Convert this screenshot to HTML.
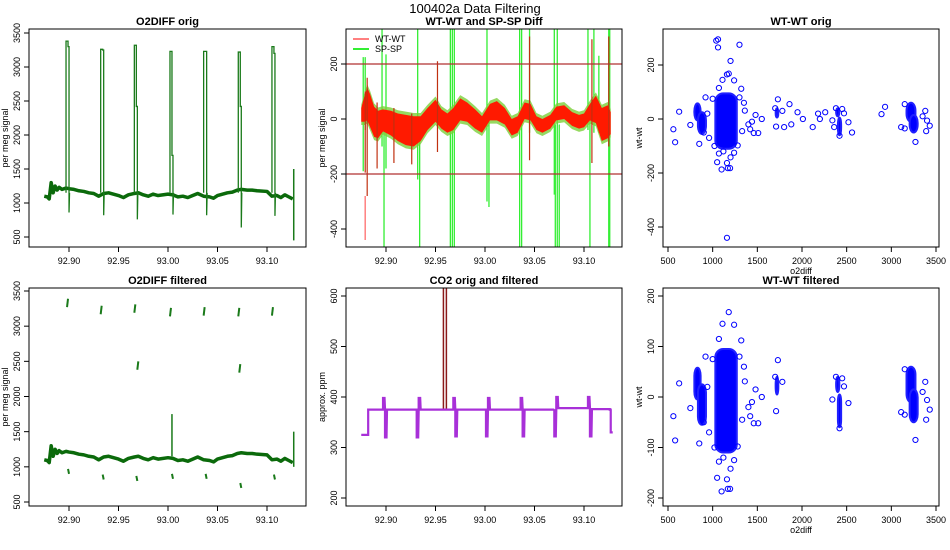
<!DOCTYPE html>
<html><head><meta charset="utf-8">
<style>
html,body{margin:0;padding:0;background:#fff;}
svg{display:block;font-family:"Liberation Sans",sans-serif;}
</style></head><body>
<svg id="c" width="950" height="550" viewBox="0 0 950 550" xmlns="http://www.w3.org/2000/svg">
<text x="475" y="13" text-anchor="middle" font-size="13">100402a   Data Filtering</text>
</svg>
<script>
// ---------- data ----------
const baseT = [92.875,92.878,92.880,92.882,92.884,92.886,92.888,92.890,92.893,92.897,92.900,92.905,92.910,92.915,92.920,92.925,92.930,92.935,92.940,92.945,92.950,92.955,92.960,92.966,92.970,92.975,92.980,92.985,92.990,93.000,93.005,93.010,93.015,93.020,93.025,93.030,93.036,93.042,93.046,93.050,93.055,93.060,93.065,93.070,93.074,93.080,93.085,93.090,93.100,93.105,93.110,93.114,93.118,93.122,93.126];
const baseV = [1100,1090,1060,1300,1150,1250,1190,1230,1200,1220,1210,1200,1180,1170,1150,1140,1100,1140,1150,1130,1110,1080,1120,1140,1150,1120,1100,1130,1110,1130,1120,1090,1100,1080,1110,1140,1100,1090,1070,1110,1130,1150,1160,1190,1200,1190,1190,1180,1170,1100,1110,1080,1120,1090,1060];
const spikeT = [92.897,92.932,92.966,93.002,93.036,93.071,93.105];
const spikeTop = [3380,3260,3320,3230,3230,3220,3300];
const spikeMid = [3300,3250,2420,1700,3230,2420,3200];
const spikeDip = [860,820,760,830,820,640,810];
const filtTopT = [92.898,92.932,92.966,93.002,93.036,93.071,93.105,92.969,93.072];
const filtTopV = [3330,3230,3250,3200,3210,3200,3210,2440,2400];
const filtDipV = [900,820,800,830,830,700,820];

const redT = [92.875,92.878,92.881,92.884,92.888,92.892,92.897,92.905,92.912,92.920,92.928,92.935,92.942,92.950,92.956,92.962,92.968,92.975,92.982,92.990,92.997,93.005,93.012,93.020,93.027,93.033,93.040,93.046,93.052,93.058,93.066,93.072,93.080,93.088,93.095,93.100,93.106,93.112,93.118,93.124,93.127];
const redV = [15,35,55,30,-10,-20,-5,-15,-30,-40,-45,-35,0,30,0,-15,0,35,25,0,-20,25,30,10,-30,-20,30,25,-15,-25,-10,20,25,0,-10,-5,25,35,-20,-10,-15];
const redHalf = [25,45,60,60,55,50,40,45,50,55,55,45,40,40,35,35,40,40,35,35,30,30,35,30,30,30,30,30,25,25,25,25,25,25,25,25,30,50,60,60,40];
const greenT = [92.877,92.879,92.896,92.898,92.900,92.932,92.934,92.965,92.967,92.969,93.002,93.004,93.035,93.037,93.045,93.070,93.071,93.073,93.075,93.104,93.106,93.110,93.115,93.125,93.126];
const greenTop = [225,225,330,30,235,330,-50,330,330,330,330,0,330,330,330,330,-20,330,-20,330,30,330,230,330,330];
const greenBot = [-190,-40,-100,-470,-180,-220,-470,-470,-470,-470,-300,-320,-470,-470,-50,-275,-470,-470,-470,-40,-470,-50,-50,-470,-470];
const brownT = [92.879,92.881,92.891,92.908,92.926,92.952,93.045,93.108,93.125];
const brownTop = [100,150,60,40,20,210,300,290,300];
const brownBot = [-195,-280,-180,-160,-165,-120,-150,-160,-100];

const co2StepT = [92.875,92.882,92.897,92.899,92.931,92.933,92.968,92.970,93.001,93.003,93.036,93.038,93.070,93.072,93.104,93.106,93.126,93.127];
const co2StepV = [325,375,398,320,320,398,398,322,322,398,398,322,322,400,400,322,375,330];
const co2Base = [325,375,375,375,375,375,375,375,375,375,375,375,376,378,378,376,375,330];
const co2OrigT = [92.958,92.961];
const co2OrigTop = [900,900];

const coreX = [830,880,1150,1720,2400,2420,3220,3250];
const coreXH = [35,45,120,15,18,18,50,45];
const coreYLo = [-5,-55,-110,5,10,-60,-10,-50];
const coreYHi = [58,25,95,40,40,5,60,15];
const outX = [560,580,625,750,850,920,1050,1070,1100,1160,1170,1195,1200,1240,1180,1110,1240,1320,1360,1440,1460,1510,1550,1480,1420,1700,1730,1780,1710,2340,2380,2450,2470,2520,2420,3110,3150,3150,3380,3390,3400,3430,3270,3350,1000,960,1020,940,1300,1350,1400,1330,1070,1120,900,1280];
const outY = [-38,-86,27,-22,-92,80,-160,-128,-187,-163,-182,-182,-142,-125,168,145,143,112,31,-10,-52,-52,0,15,-38,40,73,30,-28,-5,40,37,21,-12,-62,-30,-35,55,30,-45,-6,-25,-85,10,75,-70,-100,20,80,60,-20,-45,115,-120,-50,-98];
const origOutX = [1060,1040,1060,1300,1200,1160,1160,1860,1950,2010,2120,2180,2200,2260,2560,2890,2930,1800,1880,2360];
const origOutY = [295,290,265,275,215,165,-440,55,25,0,-30,20,0,25,-50,18,45,-30,-20,-30];

// ---------- helpers ----------
const svg = document.getElementById('c');
const NS = 'http://www.w3.org/2000/svg';
function mk(tag, attrs, parent){const e=document.createElementNS(NS,tag);for(const k in attrs)e.setAttribute(k,attrs[k]);(parent||svg).appendChild(e);return e;}
function lin(d0,d1,r0,r1){return v=>r0+(v-d0)*(r1-r0)/(d1-d0);}
let clipN=0;
function panel(name,box,title,xTicks,xFmt,yTicks,yFmt,xs,ys,ylab,xlab){
  const g=mk('g',{});
  
  
  const id='cl'+(clipN++);
  const cp=mk('clipPath',{id:id},g);mk('rect',{x:box[0],y:box[1],width:box[2]-box[0],height:box[3]-box[1]},cp);
  const t=mk('text',{x:(box[0]+box[2])/2,y:box[1]-4,'text-anchor':'middle','font-size':11,'font-weight':'bold'},g);t.textContent=title;
  
  
  const xa=mk('g',{},g);
  
  
  xTicks.forEach(v=>{const x=xs(v);mk('line',{x1:x,x2:x,y1:box[3],y2:box[3]+5,stroke:'#000'},xa);
    const tx=mk('text',{x:x,y:box[3]+17,'text-anchor':'middle','font-size':9},xa);tx.textContent=xFmt(v);});
  mk('line',{x1:xs(xTicks[0]),x2:xs(xTicks[xTicks.length-1]),y1:box[3],y2:box[3],stroke:'#000'},xa);
  const ya=mk('g',{},g);
  
  
  yTicks.forEach(v=>{const y=ys(v);mk('line',{x1:box[0]-5,x2:box[0],y1:y,y2:y,stroke:'#000'},ya);
    const tx=mk('text',{x:box[0]-9,y:y,'text-anchor':'middle','font-size':9,transform:`rotate(-90 ${box[0]-9} ${y})`},ya);tx.textContent=yFmt(v);});
  mk('line',{x1:box[0],x2:box[0],y1:ys(yTicks[0]),y2:ys(yTicks[yTicks.length-1]),stroke:'#000'},ya);
  const yl=mk('text',{x:box[0]-21,y:(box[1]+box[3])/2,'text-anchor':'middle','font-size':9,transform:`rotate(-90 ${box[0]-21} ${(box[1]+box[3])/2})`},g);yl.textContent=ylab;
  
  
  if(xlab){const xl=mk('text',{x:(box[0]+box[2])/2,y:box[3]+27,'text-anchor':'middle','font-size':9},g);xl.textContent=xlab;
    
    }
  const plot=mk('g',{'clip-path':`url(#${id})`},g);
  
  
  const fr=mk('rect',{x:box[0],y:box[1],width:box[2]-box[0],height:box[3]-box[1],fill:'none',stroke:'#000'},g);
  
  
  return plot;
}
const tTicks=[92.90,92.95,93.00,93.05,93.10];
const tf=v=>v.toFixed(2);
const xTL=lin(92.90,93.10,69,267), xTM=lin(92.90,93.10,386,584);

// ---------- O2DIFF ----------
function o2panel(name,title,box,ys,filtered){
  const p=panel(name,box,title,tTicks,tf,[500,1000,1500,2000,2500,3000,3500],v=>String(v),xTL,ys,'per meg signal');
  let pts=[];
  for(let i=0;i<baseT.length;i++)pts.push(xTL(baseT[i])+','+ys(baseV[i]));
  const base=mk('polyline',{points:pts.join(' '),fill:'none',stroke:'#0b6a0b','stroke-width':3.5,'stroke-linejoin':'round'},p);
  
  
  for(let i=0;i<spikeT.length;i++){
    const x=xTL(spikeT[i]);
    if(!filtered){
      const s=mk('polyline',{points:`${x},${ys(1150)} ${x},${ys(spikeTop[i])} ${x+2},${ys(spikeTop[i])} ${x+2},${ys(spikeMid[i])} ${x+3},${ys(spikeMid[i])} ${x+3},${ys(spikeDip[i])} ${x+3.5},${ys(1150)}`,fill:'none',stroke:'#1a7a1a','stroke-width':1.3},p);
      
      
    } else {
      const d=mk('line',{x1:x+2,x2:x+3,y1:ys(filtDipV[i]+70),y2:ys(filtDipV[i]),stroke:'#1a7a1a','stroke-width':2},p);
      
      
    }
  }
  if(filtered){
    for(let i=0;i<filtTopT.length;i++){const x=xTL(filtTopT[i]);
      const s=mk('line',{x1:x,x2:x+1,y1:ys(filtTopV[i]-60),y2:ys(filtTopV[i]+60),stroke:'#1a7a1a','stroke-width':2},p);
      
      }
    const s=mk('line',{x1:xTL(93.004),x2:xTL(93.004),y1:ys(1150),y2:ys(1750),stroke:'#1a7a1a','stroke-width':1.5},p);
    
    
  }
  const e=mk('line',{x1:xTL(93.127),x2:xTL(93.127),y1:ys(filtered?1000:450),y2:ys(1500),stroke:'#1a7a1a','stroke-width':1.5},p);
  
  
}
o2panel('o2diff-orig-panel','O2DIFF orig',[29,29,306,247],lin(500,3500,237,33),false);
o2panel('o2diff-filtered-panel','O2DIFF filtered',[29,288,306,506],lin(500,3500,502,291),true);

// ---------- WT-WT and SP-SP diff ----------
(function(){
  const ys=lin(0,200,119,64);
  const p=panel('diff-panel',[346,29,622,247],'WT-WT and SP-SP Diff',tTicks,tf,[-400,-200,0,200],v=>String(v),xTM,ys,'per meg signal');
  for(let i=0;i<greenT.length;i++){const x=xTM(greenT[i]);
    const l=mk('line',{x1:x,x2:x,y1:ys(greenTop[i]),y2:ys(greenBot[i]),stroke:'#33ee33','stroke-width':1.3},p);
    
    }
  let up=[],lo=[];
  for(let i=0;i<redT.length;i++){up.push(xTM(redT[i])+','+ys(redV[i]+redHalf[i]+12));lo.unshift(xTM(redT[i])+','+ys(redV[i]-redHalf[i]-12));}
  const gb=mk('polygon',{points:up.concat(lo).join(' '),fill:'#7ccf3a',opacity:0.8},p);
  
  
  up=[];lo=[];
  for(let i=0;i<redT.length;i++){up.push(xTM(redT[i])+','+ys(redV[i]+redHalf[i]));lo.unshift(xTM(redT[i])+','+ys(redV[i]-redHalf[i]));}
  const rb=mk('polygon',{points:up.concat(lo).join(' '),fill:'#ff1a00'},p);
  
  
  for(let i=0;i<brownT.length;i++){const x=xTM(brownT[i]);
    const l=mk('line',{x1:x,x2:x,y1:ys(brownTop[i]),y2:ys(brownBot[i]),stroke:'#c03010','stroke-width':1.2},p);
    
    }
  const r1=mk('line',{x1:xTM(92.879),x2:xTM(92.879),y1:ys(-280),y2:ys(-440),stroke:'#ff8080','stroke-width':1.5},p);
  
  
  [200,-200].forEach(v=>{const l=mk('line',{x1:346,x2:622,y1:ys(v),y2:ys(v),stroke:'#b03030','stroke-width':1.2},p);
    
    });
  const lg=mk('g',{},p);
  
  
  mk('line',{x1:353,x2:369,y1:39,y2:39,stroke:'#ff8080','stroke-width':2},lg);
  let t=mk('text',{x:375,y:42,'font-size':9},lg);t.textContent='WT-WT';
  mk('line',{x1:353,x2:369,y1:49,y2:49,stroke:'#33ee33','stroke-width':2},lg);
  t=mk('text',{x:375,y:52,'font-size':9},lg);t.textContent='SP-SP';
})();

// ---------- CO2 ----------
(function(){
  const ys=lin(200,600,498,296);
  const p=panel('co2-panel',[346,288,622,506],'CO2 orig and filtered',tTicks,tf,[200,300,400,500,600],v=>String(v),xTM,ys,'approx. ppm');
  for(let i=0;i<co2OrigT.length;i++){const x=xTM(co2OrigT[i]);
    const l=mk('line',{x1:x,x2:x,y1:ys(375),y2:ys(co2OrigTop[i]),stroke:'#8b1a1a','stroke-width':1.5},p);
    
    }
  let pts=[];
  for(let i=0;i<co2StepT.length;i++){
    const x=xTM(co2StepT[i]);
    if(i>0)pts.push(x+','+ys(co2Base[i-1]));
    pts.push(x+','+ys(co2Base[i]));
    pts.push(x+','+ys(co2StepV[i]));
    pts.push((x+1.5)+','+ys(co2StepV[i]));
    pts.push((x+2)+','+ys(co2Base[i]));
  }
  const l=mk('polyline',{points:pts.join(' '),fill:'none',stroke:'#a830d8','stroke-width':2.2},p);
  
  
})();

// ---------- scatter ----------
function scatter(name,title,box,ys,yTicks,extra){
  const xs=lin(500,3500,668,936);
  const p=panel(name,box,title,[500,1000,1500,2000,2500,3000,3500],v=>String(v),yTicks,v=>String(v),xs,ys,'wt-wt','o2diff');
  for(let i=0;i<coreX.length;i++){
    const x0=xs(coreX[i]-coreXH[i]), x1=xs(coreX[i]+coreXH[i]);
    const y0=ys(coreYHi[i]), y1=ys(coreYLo[i]);
    const c=mk('rect',{x:x0,y:y0,width:x1-x0,height:y1-y0,rx:Math.min(8,(x1-x0)/2),ry:8,fill:'#0000ff',stroke:'#2020ff','stroke-width':2},p);
    
    
  }
  const all=extra?[[outX,outY],[origOutX,origOutY]]:[[outX,outY]];
  all.forEach(([X,Y])=>{for(let i=0;i<X.length;i++){
    const c=mk('circle',{cx:xs(X[i]),cy:ys(Y[i]),r:2.6,fill:'none',stroke:'#0000ff','stroke-width':1},p);
    
    }});
}
scatter('wt-wt-orig-panel','WT-WT orig',[663,29,939,247],lin(0,200,119,65),[-400,-200,0,200],true);
scatter('wt-wt-filtered-panel','WT-WT filtered',[663,288,939,506],lin(-200,200,498,296),[-200,-100,0,100,200],false);
</script>
</body></html>
